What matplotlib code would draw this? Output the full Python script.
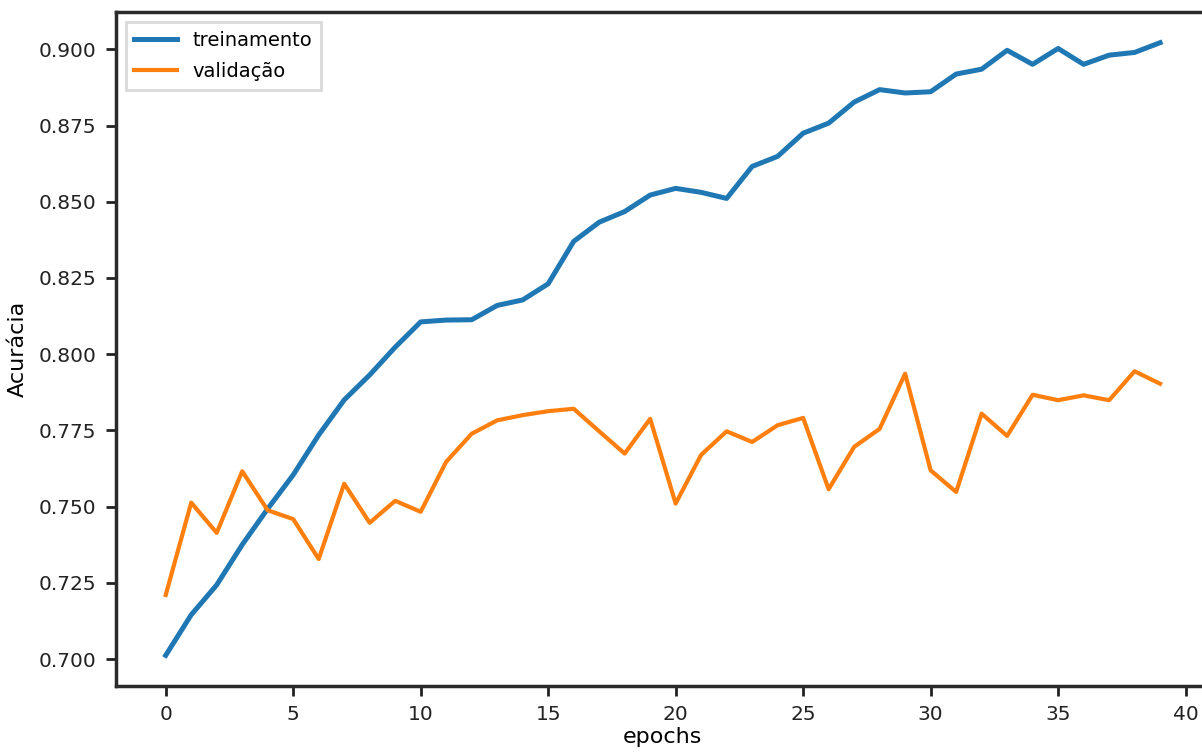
import matplotlib
matplotlib.use("Agg")
import matplotlib.pyplot as plt

# valores (acurácia por época)
epochs = list(range(40))
treinamento = [0.7012, 0.7145, 0.7243, 0.7375, 0.7493, 0.7604, 0.7735, 0.7850, 0.7932, 0.8023,
               0.8106, 0.8112, 0.8113, 0.8160, 0.8178, 0.8231, 0.8370, 0.8433, 0.8468, 0.8522,
               0.8544, 0.8531, 0.8511, 0.8616, 0.8649, 0.8725, 0.8758, 0.8827, 0.8868, 0.8857,
               0.8861, 0.8919, 0.8935, 0.8997, 0.8951, 0.9003, 0.8951, 0.8981, 0.8990, 0.9022]
validacao = [0.7210, 0.7513, 0.7414, 0.7616, 0.7488, 0.7459, 0.7328, 0.7575, 0.7447, 0.7519,
             0.7483, 0.7647, 0.7739, 0.7783, 0.7800, 0.7813, 0.7821, 0.7747, 0.7674, 0.7788,
             0.7510, 0.7670, 0.7747, 0.7712, 0.7767, 0.7791, 0.7557, 0.7696, 0.7755, 0.7936,
             0.7619, 0.7548, 0.7805, 0.7732, 0.7867, 0.7849, 0.7865, 0.7849, 0.7944, 0.7903]

fig = plt.figure(figsize=(12.02, 7.53), dpi=100)
ax = fig.add_axes([0.0965, 0.089, 0.91, 0.895])

ax.plot(epochs, treinamento, color="#1f77b4", linewidth=3.6, label="treinamento")
ax.plot(epochs, validacao, color="#ff7f0e", linewidth=3.0, label="validação")

ax.set_xticks(range(0, 41, 5))
ax.set_yticks([0.700, 0.725, 0.750, 0.775, 0.800, 0.825, 0.850, 0.875, 0.900])
ax.set_yticklabels(["%.3f" % v for v in ax.get_yticks()])
ax.tick_params(labelsize=14.5, length=7, width=2, colors="#222222", pad=7)
for s in ax.spines.values():
    s.set_linewidth(2.5)
    s.set_color("#2a2a2a")

ax.set_xlabel("epochs", fontsize=16, labelpad=2)
ax.set_ylabel("Acurácia", fontsize=16, labelpad=8)

leg = ax.legend(loc="upper left", fontsize=14, handlelength=2.2, borderpad=0.45,
                labelspacing=0.65, handletextpad=0.8, fancybox=False,
                edgecolor="#d0d0d0", borderaxespad=0.5)
leg.get_frame().set_linewidth(2)

fig.savefig("out.png", dpi=100)
